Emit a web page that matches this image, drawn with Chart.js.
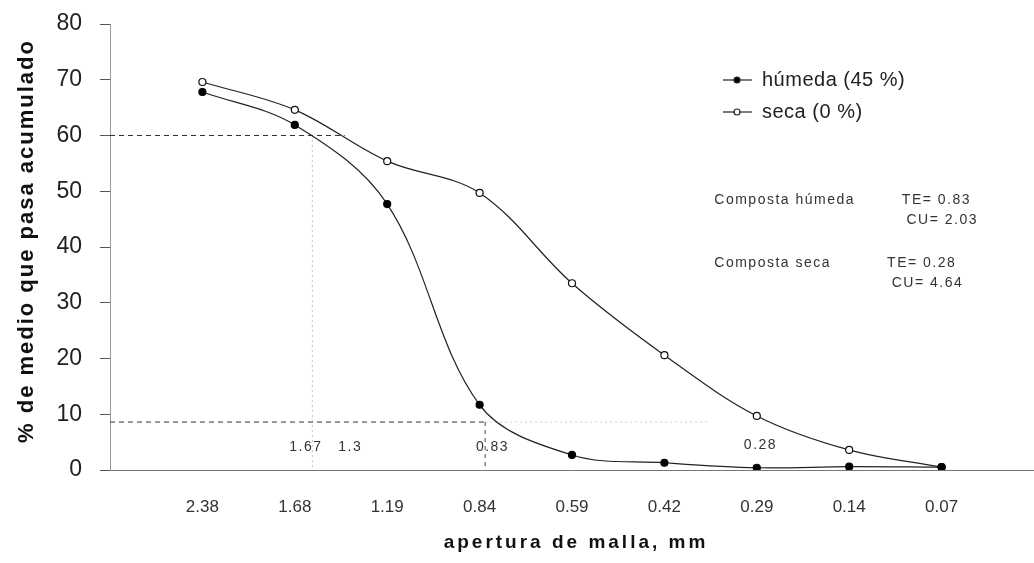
<!DOCTYPE html>
<html>
<head>
<meta charset="utf-8">
<script src="https://cdn.jsdelivr.net/npm/chart.js@4/dist/chart.umd.min.js"></script>
<style>
  html, body { margin: 0; padding: 0; background: #fff; }
  #wrap { width: 1034px; height: 563px; }
</style>
</head>
<body>
<div id="wrap"><canvas id="myChart" width="1034" height="563"></canvas></div>
<script>
// apertura de malla (mm) -> one slot per sieve
var aperturas = ["2.38", "1.68", "1.19", "0.84", "0.59", "0.42", "0.29", "0.14", "0.07"];
var humeda = [67.8, 61.9, 47.7, 11.7, 2.7, 1.3, 0.4, 0.6, 0.5];
var seca = [69.6, 64.6, 55.4, 49.7, 33.5, 20.6, 9.7, 3.6, 0.5];
var seriesNames = ["húmeda (45 %)", "seca (0 %)"];
var yMin = 0, yMax = 80, yStep = 10;

// guide lines for d60 / d10 (x in slot units, y in %)
var guias = [
  { x0: 0, y0: 60, x1: 2.54, y1: 60, dash: [5, 4], color: "#333" },
  { x0: 2.19, y0: 60, x1: 2.19, y1: 0, dash: [1, 4], color: "#888" },
  { x0: 0, y0: 8.6, x1: 4.06, y1: 8.6, dash: [5, 4], color: "#333" },
  { x0: 4.06, y0: 8.6, x1: 6.46, y1: 8.6, dash: [2, 3], color: "#ccc" },
  { x0: 4.06, y0: 8.6, x1: 4.06, y1: 0, dash: [4, 4], color: "#444" }
];
var notas = [
  { t: "1.67", x: 2.12, y: 4.1, align: "center", size: 14 },
  { t: "1.3", x: 2.6, y: 4.1, align: "center", size: 14 },
  { t: "0.83", x: 4.14, y: 4.1, align: "center", size: 14 },
  { t: "0.28", x: 7.04, y: 4.5, align: "center", size: 14 },
  { t: "Composta húmeda", x: 6.54, y: 48.4, align: "left", size: 14 },
  { t: "TE= 0.83", x: 8.57, y: 48.4, align: "left", size: 14 },
  { t: "CU= 2.03", x: 8.62, y: 44.8, align: "left", size: 14 },
  { t: "Composta seca", x: 6.54, y: 37.1, align: "left", size: 14 },
  { t: "TE= 0.28", x: 8.41, y: 37.1, align: "left", size: 14 },
  { t: "CU= 4.64", x: 8.46, y: 33.5, align: "left", size: 14 }
];

var FONT = "'Liberation Sans', Arial, sans-serif";

function toPoints(arr) {
  var out = [];
  for (var i = 0; i < arr.length; i++) out.push({ x: i + 1, y: arr[i] });
  return out;
}

var extras = {
  id: "extras",
  beforeDatasetsDraw: function (chart) {
    var ctx = chart.ctx, xs = chart.scales.x, ys = chart.scales.y;
    ctx.save();
    guias.forEach(function (g) {
      ctx.beginPath();
      ctx.setLineDash(g.dash);
      ctx.strokeStyle = g.color;
      ctx.lineWidth = 1;
      ctx.moveTo(xs.getPixelForValue(g.x0), ys.getPixelForValue(g.y0));
      ctx.lineTo(xs.getPixelForValue(g.x1), ys.getPixelForValue(g.y1));
      ctx.stroke();
    });
    ctx.restore();
  },
  afterDraw: function (chart) {
    var ctx = chart.ctx, xs = chart.scales.x, ys = chart.scales.y;
    ctx.save();
    // notes
    ctx.fillStyle = "#333";
    ctx.textBaseline = "middle";
    notas.forEach(function (n) {
      ctx.font = n.size + "px " + FONT;
      ctx.letterSpacing = "1.5px";
      ctx.textAlign = n.align;
      ctx.fillText(n.t, xs.getPixelForValue(n.x), ys.getPixelForValue(n.y));
    });
    // legend
    var lx = 723, ly = [80, 112];
    ctx.letterSpacing = "0.5px";
    ctx.font = "20px " + FONT;
    ctx.textAlign = "left";
    for (var i = 0; i < 2; i++) {
      ctx.setLineDash([]);
      ctx.strokeStyle = "#222";
      ctx.lineWidth = 1.2;
      ctx.beginPath();
      ctx.moveTo(lx, ly[i]);
      ctx.lineTo(lx + 29, ly[i]);
      ctx.stroke();
      ctx.beginPath();
      ctx.arc(lx + 14, ly[i], 3, 0, Math.PI * 2);
      ctx.fillStyle = i === 0 ? "#000" : "#fff";
      ctx.fill();
      ctx.stroke();
      ctx.fillStyle = "#222";
      ctx.fillText(seriesNames[i], lx + 39, ly[i]);
    }
    // axis titles
    ctx.fillStyle = "#111";
    ctx.font = "bold 19px " + FONT;
    ctx.letterSpacing = "3px";
    ctx.textAlign = "center";
    ctx.fillText("apertura de malla, mm", 576, 543);
    ctx.translate(27, 241);
    ctx.rotate(-Math.PI / 2);
    ctx.font = "bold 22px " + FONT;
    ctx.letterSpacing = "2px";
    ctx.fillText("% de medio que pasa acumulado", 0, 0);
    ctx.restore();
  }
};

var ch = document.getElementById("myChart");
new Chart(ch, {
  type: "line",
  data: {
    datasets: [
      {
        label: seriesNames[0],
        data: toPoints(humeda),
        borderColor: "#222",
        borderWidth: 1.2,
        pointRadius: 3.5,
        pointBackgroundColor: "#000",
        pointBorderColor: "#000",
        tension: 0.35
      },
      {
        label: seriesNames[1],
        data: toPoints(seca),
        borderColor: "#222",
        borderWidth: 1.2,
        pointRadius: 3.5,
        pointBackgroundColor: "#fff",
        pointBorderColor: "#111",
        tension: 0.35
      }
    ]
  },
  options: {
    responsive: false,
    animation: false,
    layout: { autoPadding: false, padding: { top: 24, right: 0, bottom: 0, left: 0 } },
    plugins: { legend: { display: false }, tooltip: { enabled: false } },
    scales: {
      x: {
        type: "linear",
        min: 0,
        max: 10,
        afterFit: function (s) {
          s.height = 93;
          s.paddingLeft = 0; s.paddingRight = 0;
        },
        grid: { display: true, drawOnChartArea: false, drawTicks: false },
        border: { display: true, color: "#777", width: 1 },
        ticks: {
          stepSize: 1,
          autoSkip: false,
          padding: 27,
          color: "#333",
          font: { family: FONT, size: 17 },
          callback: function (v) { return aperturas[v - 1] || ""; }
        }
      },
      y: {
        min: yMin,
        max: yMax,
        afterFit: function (s) {
          s.width = 110;
          s.paddingTop = 0; s.paddingBottom = 0;
        },
        grid: { display: true, drawOnChartArea: false, drawTicks: true, tickLength: 10, color: "#555" },
        border: { display: true, color: "#999", dash: [1, 3] },
        ticks: {
          stepSize: yStep,
          padding: 18,
          color: "#222",
          font: { family: FONT, size: 23 }
        }
      }
    }
  },
  plugins: [extras]
}); //end of chart
</script>
</body>
</html>
